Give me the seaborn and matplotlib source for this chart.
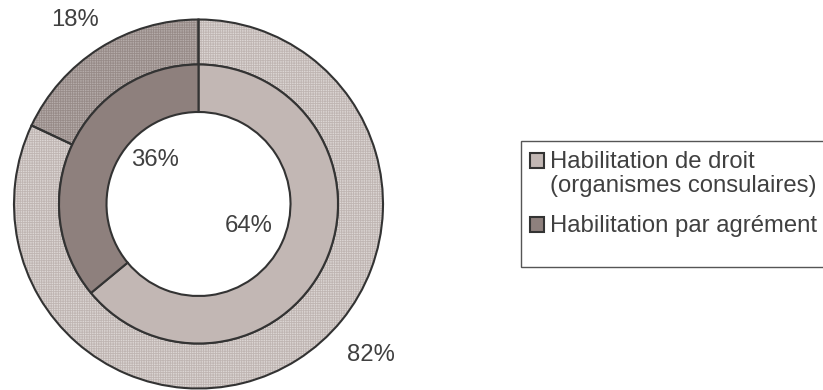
import matplotlib
matplotlib.use("Agg")
import matplotlib.pyplot as plt
from matplotlib.patches import Rectangle
import seaborn as sns

# Data
categories = ["Habilitation de droit\n(organismes consulaires)", "Habilitation par agrément"]
inner_values = [64, 36]
outer_values = [82, 18]

sns.set_style("white")
plt.rcParams["font.family"] = ["Liberation Sans", "DejaVu Sans"]
plt.rcParams["hatch.linewidth"] = 0.6

inner_colors = ["#c2b7b4", "#8e807d"]
outer_colors = ["#dcd6d4", "#b5acaa"]
outer_hatch = ["#bfb5b2", "#978b88"]
edge = "#333333"
text_color = "#404040"
fs = 17.2

W, H = 823, 390
fig = plt.figure(figsize=(W / 100, H / 100), dpi=100)

cx, cy, R = 198.5, H - 204, 184.5
ax = fig.add_axes([(cx - R) / W, (cy - R) / H, 2 * R / W, 2 * R / H])
ax.set_aspect("equal")
ax.axis("off")

r_mid = 139.5 / R
r_in = 92 / R

# Outer ring: textured fill, then outlines
wedges, _ = ax.pie(outer_values, radius=1.0, startangle=90, counterclock=False,
                   colors=outer_colors,
                   wedgeprops=dict(width=1 - r_mid, linewidth=0))
for w, hc in zip(wedges, outer_hatch):
    w.set_hatch("+++++++")
    w.set_edgecolor(hc)
    w.set_linewidth(0)
ax.pie(outer_values, radius=1.0, startangle=90, counterclock=False,
       colors=["none", "none"],
       wedgeprops=dict(width=1 - r_mid, edgecolor=edge, linewidth=1.5))

# Inner ring
ax.pie(inner_values, radius=r_mid, startangle=90, counterclock=False,
       colors=inner_colors,
       wedgeprops=dict(width=r_mid - r_in, edgecolor=edge, linewidth=1.5))

ax.set_xlim(-1, 1)
ax.set_ylim(-1, 1)

# Percentage labels
label_pos_outer = [(0.935, -0.818), (-0.672, 0.997)]
label_pos_inner = [(0.271, -0.119), (-0.236, 0.238)]
for v, (x, y) in zip(outer_values, label_pos_outer):
    ax.text(x, y, f"{v}%", ha="center", va="center", fontsize=fs,
            color=text_color, clip_on=False)
for v, (x, y) in zip(inner_values, label_pos_inner):
    ax.text(x, y, f"{v}%", ha="center", va="center", fontsize=fs,
            color=text_color, clip_on=False)

# Legend: frame, swatches and labels in pixel coordinates
px = lambda x, y: (x / W, 1 - y / H)
fig.patches.append(Rectangle(px(520.5, 267), 320 / W, 126 / H,
                             transform=fig.transFigure, facecolor="white",
                             edgecolor="#555555", linewidth=1.0))
swatch_tops = [153, 217]
baselines = [168, 232]
line_step = 24
for c, label, top, base in zip(inner_colors, categories, swatch_tops, baselines):
    fig.patches.append(Rectangle(px(529.5, top + 14.5), 14.5 / W, 14.5 / H,
                                 transform=fig.transFigure, facecolor=c,
                                 edgecolor=edge, linewidth=1.5))
    for i, line in enumerate(label.split("\n")):
        fig.text(*px(550, base + i * line_step), line, ha="left",
                 va="baseline", fontsize=fs, color=text_color)

fig.savefig("out.png", dpi=100)
